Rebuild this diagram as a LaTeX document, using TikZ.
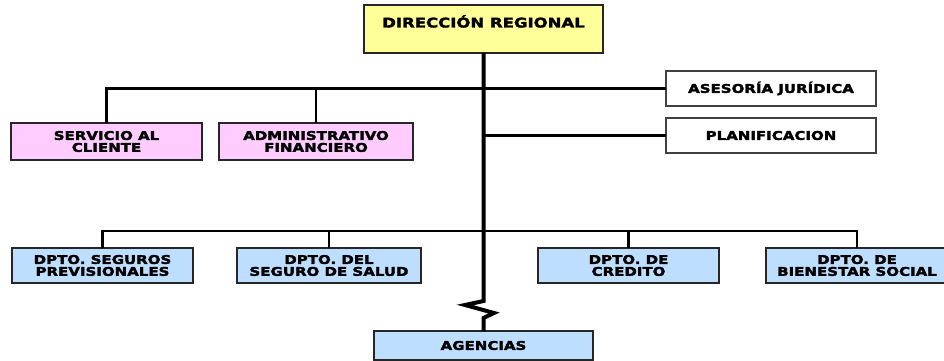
\documentclass[tikz,border=0pt]{standalone}
\usepackage{fontspec}
\newfontfamily\bx{DejaVu Sans}[FakeStretch=1.25,FakeBold=2.5]
\definecolor{yel}{RGB}{255,255,153}
\definecolor{pnk}{RGB}{255,204,255}
\definecolor{blu}{RGB}{190,222,255}
\begin{document}
\begin{tikzpicture}[x=1pt,y=-1pt,
  box/.style={draw=black!85, line width=2pt, align=center, inner sep=0pt, outer sep=0pt,
    font=\bx\bfseries\fontsize{12}{11.9}\selectfont, anchor=north west},
  yb/.style={box, fill=yel},
  pb/.style={box, fill=pnk},
  bb/.style={box, fill=blu},
  wb/.style={box, fill=white, draw=black!75, line width=1.3pt},
  con/.style={line width=2.2pt},
  trunk/.style={line width=4pt}]
\useasboundingbox (0,0) rectangle (944,361);
\clip (0,0) rectangle (944,361);
\node[yb, minimum width=239pt, minimum height=48pt] (dir) at (364,5) {};
\node[font=\bx\bfseries\fontsize{13.2}{14}\selectfont, anchor=north, inner sep=0pt] (dirt) at ([yshift=-10pt]dir.north) {DIRECCIÓN REGIONAL};
\node[pb, minimum width=191pt, minimum height=37pt] (serv) at (11,123) {SERVICIO AL\\CLIENTE};
\node[pb, minimum width=194pt, minimum height=37pt] (adm) at (219,123) {ADMINISTRATIVO\\FINANCIERO};
\node[wb, minimum width=210pt, minimum height=35pt] (ases) at (666,71) {ASESORÍA JURÍDICA};
\node[wb, minimum width=210pt, minimum height=35pt] (plan) at (666,118) {PLANIFICACION};
\node[bb, minimum width=181pt, minimum height=35pt] (seg) at (12,248) {DPTO. SEGUROS\\PREVISIONALES};
\node[bb, minimum width=184pt, minimum height=35pt] (sal) at (237,248) {DPTO. DEL\\SEGURO DE SALUD};
\node[bb, minimum width=181pt, minimum height=35pt] (cre) at (538,248) {DPTO. DE\\CREDITO};
\node[bb, minimum width=182pt, minimum height=35pt] (bien) at (766,248) {DPTO. DE\\BIENESTAR SOCIAL};
\node[bb, minimum width=219pt, minimum height=29pt] (ag) at (374,331) {AGENCIAS};
\coordinate (hl) at (0,231);
\draw[trunk] (dir.south) -- (483.5,301) -- (465,305) -- (494,313) -- (483.5,318) -- (ag.north);
\draw[con] (serv.north) |- (ases.west);
\draw[con] (adm.north) -- (adm.north |- ases.west);
\draw[con] (plan.west) -- (plan.west -| dir.south);
\draw[con] (seg.north) |- (hl -| bien.north) -- (bien.north);
\draw[con] (sal.north) -- (sal.north |- hl);
\draw[con] (cre.north) -- (cre.north |- hl);
\end{tikzpicture}
\end{document}
